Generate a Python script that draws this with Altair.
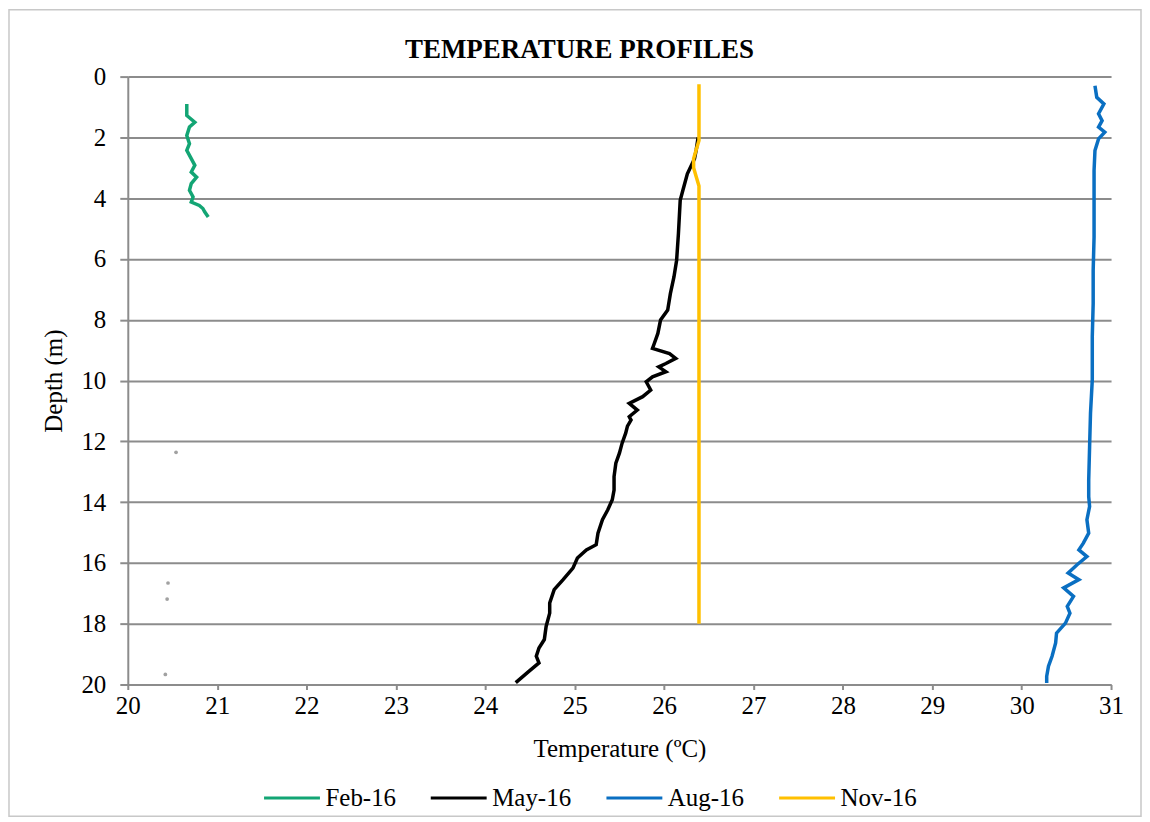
import altair as alt
import pandas as pd

# ---- data ----
feb_depth = [0.90, 1.28, 1.50, 1.66, 1.94, 2.21, 2.43, 2.70, 2.92, 3.14, 3.31, 3.52, 3.74, 3.96, 4.13, 4.24, 4.34, 4.45, 4.62]
feb_temp = [20.66, 20.66, 20.75, 20.69, 20.66, 20.69, 20.66, 20.71, 20.75, 20.71, 20.77, 20.71, 20.69, 20.73, 20.71, 20.80, 20.84, 20.86, 20.90]

may_depth = [2.00, 2.40, 2.70, 3.20, 3.74, 4.07, 5.17, 6.04, 6.59, 7.14, 7.68, 8.01, 8.45, 8.78, 8.94, 9.11, 9.27,
             9.44, 9.55, 9.71, 9.88, 10.04, 10.31, 10.53, 10.75, 10.97, 11.19, 11.30, 11.50, 11.73, 12.06, 12.39,
             12.72, 13.16, 13.60, 13.92, 14.25, 14.58, 15.02, 15.40, 15.57, 15.84, 16.17, 16.55, 16.88, 17.32,
             17.65, 18.09, 18.52, 18.80, 19.07, 19.29, 19.56, 19.94]
may_temp = [26.38, 26.36, 26.34, 26.26, 26.21, 26.18, 26.16, 26.14, 26.11, 26.07, 26.04, 25.96, 25.93, 25.89, 25.87,
            26.06, 26.13, 26.02, 25.94, 26.02, 25.87, 25.80, 25.85, 25.76, 25.61, 25.70, 25.61, 25.63, 25.59, 25.57,
            25.53, 25.50, 25.46, 25.44, 25.44, 25.42, 25.37, 25.31, 25.26, 25.24, 25.13, 25.03, 24.98, 24.87, 24.77,
            24.72, 24.72, 24.68, 24.66, 24.60, 24.57, 24.60, 24.49, 24.34]

aug_depth = [0.30, 0.68, 0.90, 1.22, 1.45, 1.66, 1.83, 2.05, 2.43, 3.09, 4.18, 5.28, 6.37, 7.47, 8.56, 9.98, 11.08,
             12.17, 13.27, 13.82, 14.14, 14.58, 15.02, 15.35, 15.57, 15.79, 16.06, 16.33, 16.55, 16.82, 17.10, 17.43,
             17.65, 17.98, 18.31, 18.63, 19.07, 19.40, 19.73, 19.95]
aug_temp = [30.82, 30.84, 30.92, 30.86, 30.90, 30.86, 30.93, 30.86, 30.82, 30.81, 30.81, 30.81, 30.80, 30.80, 30.79,
            30.79, 30.77, 30.76, 30.75, 30.75, 30.76, 30.73, 30.75, 30.69, 30.64, 30.73, 30.62, 30.52, 30.64, 30.47,
            30.58, 30.51, 30.54, 30.49, 30.39, 30.38, 30.34, 30.30, 30.28, 30.28]

nov_depth = [0.25, 2.10, 2.40, 2.70, 3.00, 3.30, 3.60, 18.00]
nov_temp = [26.39, 26.39, 26.36, 26.33, 26.33, 26.36, 26.39, 26.39]

stray_depth = [12.36, 16.66, 17.19, 19.67]
stray_temp = [20.54, 20.45, 20.44, 20.42]

series_names = ["Feb-16", "May-16", "Aug-16", "Nov-16"]
series_colors = ["#13a574", "#000000", "#0a6fc2", "#ffc000"]

x_ticks = [20 + 0.5 * i for i in range(23)]
y_ticks = [0, 2, 4, 6, 8, 10, 12, 14, 16, 18, 20]

# ---- tables ----
rows = []
for name, ds, ts in zip(series_names, [feb_depth, may_depth, aug_depth, nov_depth],
                        [feb_temp, may_temp, aug_temp, nov_temp]):
    for i, (d, t) in enumerate(zip(ds, ts)):
        rows.append({"series": name, "depth": d, "temp": t, "idx": i})
df = pd.DataFrame(rows)
stray = pd.DataFrame({"depth": stray_depth, "temp": stray_temp})

FONT = "Liberation Serif"
GRAY = "#8c8c8c"

x_enc = alt.X("temp:Q",
              scale=alt.Scale(domain=[20, 31], nice=False, zero=False),
              axis=alt.Axis(values=x_ticks, format="d",
                            labelExpr="datum.value % 1 == 0 ? datum.label : ''",
                            labelOverlap=False, labelFlush=False, grid=False,
                            title="Temperature (ºC)", tickSize=5,
                            labelPadding=4, titlePadding=18))
y_enc = alt.Y("depth:Q",
              scale=alt.Scale(domain=[0, 20], reverse=True, nice=False, zero=False),
              axis=alt.Axis(values=y_ticks, grid=True, gridColor=GRAY, gridWidth=2,
                            tickSize=8, labelPadding=14, labelFlush=False,
                            title="Depth (m)", titlePadding=14))

lines = alt.Chart(df).mark_line(strokeWidth=3.5).encode(
    x=x_enc,
    y=y_enc,
    color=alt.Color("series:N",
                    scale=alt.Scale(domain=series_names, range=series_colors),
                    legend=alt.Legend(orient="none", legendX=135, legendY=693,
                                      direction="horizontal", title=None,
                                      symbolType="stroke", symbolSize=3136,
                                      symbolStrokeWidth=3, labelFont=FONT,
                                      labelFontSize=25, labelOffset=4,
                                      columnPadding=28, padding=0,
                                      labelColor="#000000")),
    order=alt.Order("idx:Q"),
)

dots = alt.Chart(stray).mark_circle(size=14, color="#8a8a8a", opacity=0.8).encode(
    x="temp:Q", y="depth:Q"
)

border = alt.Chart(pd.DataFrame({"a": [0]})).mark_rect(
    fill="transparent", stroke="#c8c8c8", strokeWidth=1.5
).encode(x=alt.value(-119), x2=alt.value(1015), y=alt.value(-67), y2=alt.value(741))

chart = alt.layer(border, lines, dots).properties(
    width=985, height=609,
    autosize=alt.AutoSizeParams(type="none"),
    padding={"left": 120, "top": 68, "right": 31, "bottom": 133},
    background="white",
    title=alt.TitleParams("TEMPERATURE PROFILES", font=FONT, fontSize=27, fontWeight="bold",
                          color="#000000", anchor="middle", frame="group", dx=-40,
                          offset=-76, baseline="alphabetic"),
).configure_view(stroke=None).configure_axis(
    domainColor=GRAY, domainWidth=2, tickColor=GRAY, tickWidth=2,
    labelFont=FONT, labelFontSize=25, labelColor="#000000",
    titleFont=FONT, titleFontSize=25, titleFontWeight="normal", titleColor="#000000",
)

chart.save("out.html", embed_options={"renderer": "svg", "actions": False})
